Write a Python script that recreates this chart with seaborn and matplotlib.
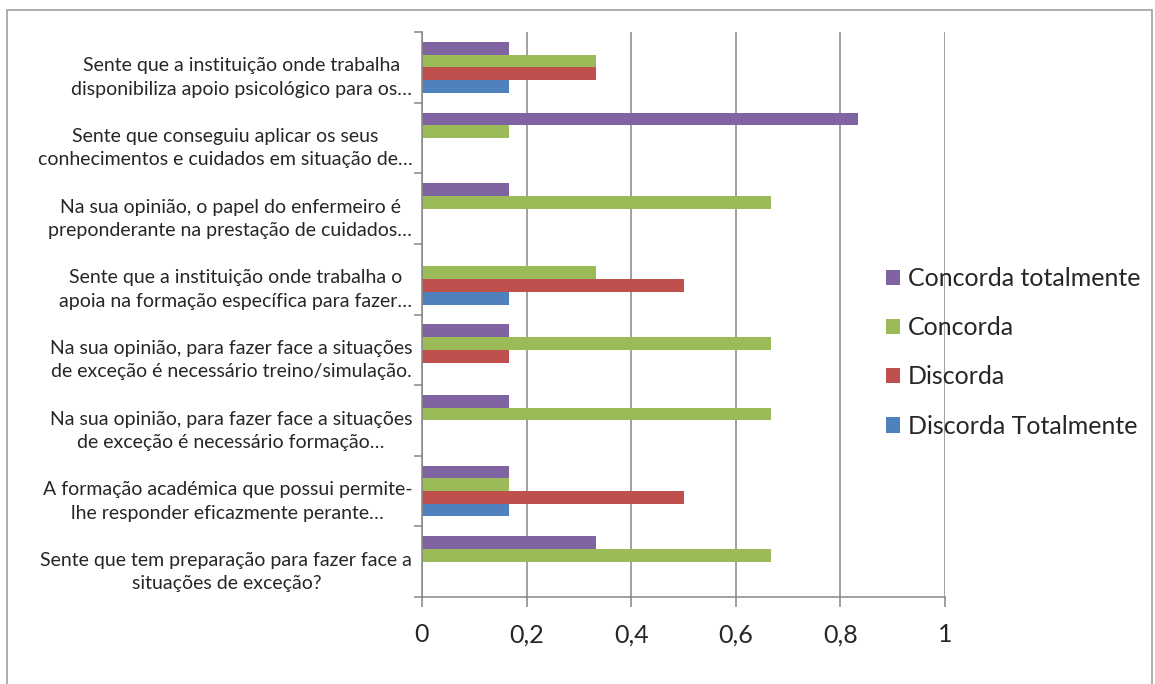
import numpy as np
import pandas as pd
import matplotlib
matplotlib.use('Agg')
import matplotlib.pyplot as plt
from matplotlib.patches import Rectangle
import seaborn as sns

# categorias (de cima para baixo)
categorias = [
    'Sente que a instituição onde trabalha\ndisponibiliza apoio psicológico para os…',
    'Sente que conseguiu aplicar os seus\nconhecimentos e cuidados em situação de…',
    'Na sua opinião, o papel do enfermeiro é\npreponderante na prestação de cuidados…',
    'Sente que a instituição onde trabalha o\napoia na formação específica para fazer…',
    'Na sua opinião, para fazer face a situações\nde exceção é necessário treino/simulação.',
    'Na sua opinião, para fazer face a situações\nde exceção é necessário formação…',
    'A formação académica que possui permite-\nlhe responder eficazmente perante…',
    'Sente que tem preparação para fazer face a\nsituações de exceção?',
]

series = ['Concorda totalmente', 'Concorda', 'Discorda', 'Discorda Totalmente']
concorda_totalmente = [0.1667, 0.8333, 0.1667, 0.0, 0.1667, 0.1667, 0.1667, 0.3333]
concorda = [0.3333, 0.1667, 0.6667, 0.3333, 0.6667, 0.6667, 0.1667, 0.6667]
discorda = [0.3333, 0.0, 0.0, 0.5, 0.1667, 0.0, 0.5, 0.0]
discorda_totalmente = [0.1667, 0.0, 0.0, 0.1667, 0.0, 0.0, 0.1667, 0.0]
cores = ['#8064A2', '#9BBB59', '#C0504D', '#4F81BD']

valores = [concorda_totalmente, concorda, discorda, discorda_totalmente]
linhas = []
for s, vals in zip(series, valores):
    for c, v in zip(categorias, vals):
        linhas.append({'Pergunta': c, 'Resposta': s, 'Valor': v})
df = pd.DataFrame(linhas)

sns.set_style('white')
plt.rcParams['font.family'] = ['Lato', 'DejaVu Sans']

W, H = 1155, 684
fig = plt.figure(figsize=(W / 100, H / 100), dpi=100)
ax = fig.add_axes([422 / W, 1 - 597 / H, (945 - 422) / W, (597 - 32) / H])

sns.barplot(data=df, y='Pergunta', x='Valor', hue='Resposta', order=categorias,
            hue_order=series, palette=cores, orient='h', width=0.72, gap=0,
            saturation=1, linewidth=0, ax=ax)

cinza = '#868686'
ax.set_xlim(0, 1)
ax.set_ylim(len(categorias) - 0.5, -0.5)
ax.set_xticks(np.arange(0, 1.01, 0.2))
ax.set_xticklabels(['0', '0,2', '0,4', '0,6', '0,8', '1'], fontsize=18)
ax.xaxis.grid(True, color=cinza, linewidth=1.1)
ax.set_axisbelow(True)
ax.set_xlabel('')
ax.set_ylabel('')

# rótulos ligeiramente abaixo do centro do grupo, como no original
ax.set_yticks(np.arange(len(categorias)) + 0.08)
ax.set_yticklabels(categorias, fontsize=14)
for t in ax.get_yticklabels():
    t.set_multialignment('center')
    t.set_linespacing(1.45)
ax.set_yticks(np.arange(-0.5, len(categorias), 1), minor=True)
ax.tick_params(axis='y', which='major', length=0, pad=7)
ax.tick_params(axis='y', which='minor', length=6, color=cinza, width=1.1, direction='out', left=True)
ax.tick_params(axis='x', length=7, color=cinza, width=1.1, direction='out', bottom=True, pad=12)

for lado in ['top', 'right']:
    ax.spines[lado].set_visible(False)
for lado in ['left', 'bottom']:
    ax.spines[lado].set_color(cinza)
    ax.spines[lado].set_linewidth(1.1)

ax.legend(loc='upper left', bbox_to_anchor=(876 / W, 1 - 257 / H),
          bbox_transform=fig.transFigure, frameon=False, fontsize=18,
          handlelength=0.56, handleheight=0.56, handletextpad=0.3,
          labelspacing=1.05, borderaxespad=0)

fig.patches.append(Rectangle((7 / W, -0.1), (1152 - 7) / W, 1.1 - 10 / H,
                             transform=fig.transFigure, fill=False,
                             edgecolor='#A0A0A0', linewidth=1.2))

fig.savefig('out.png', dpi=100)
